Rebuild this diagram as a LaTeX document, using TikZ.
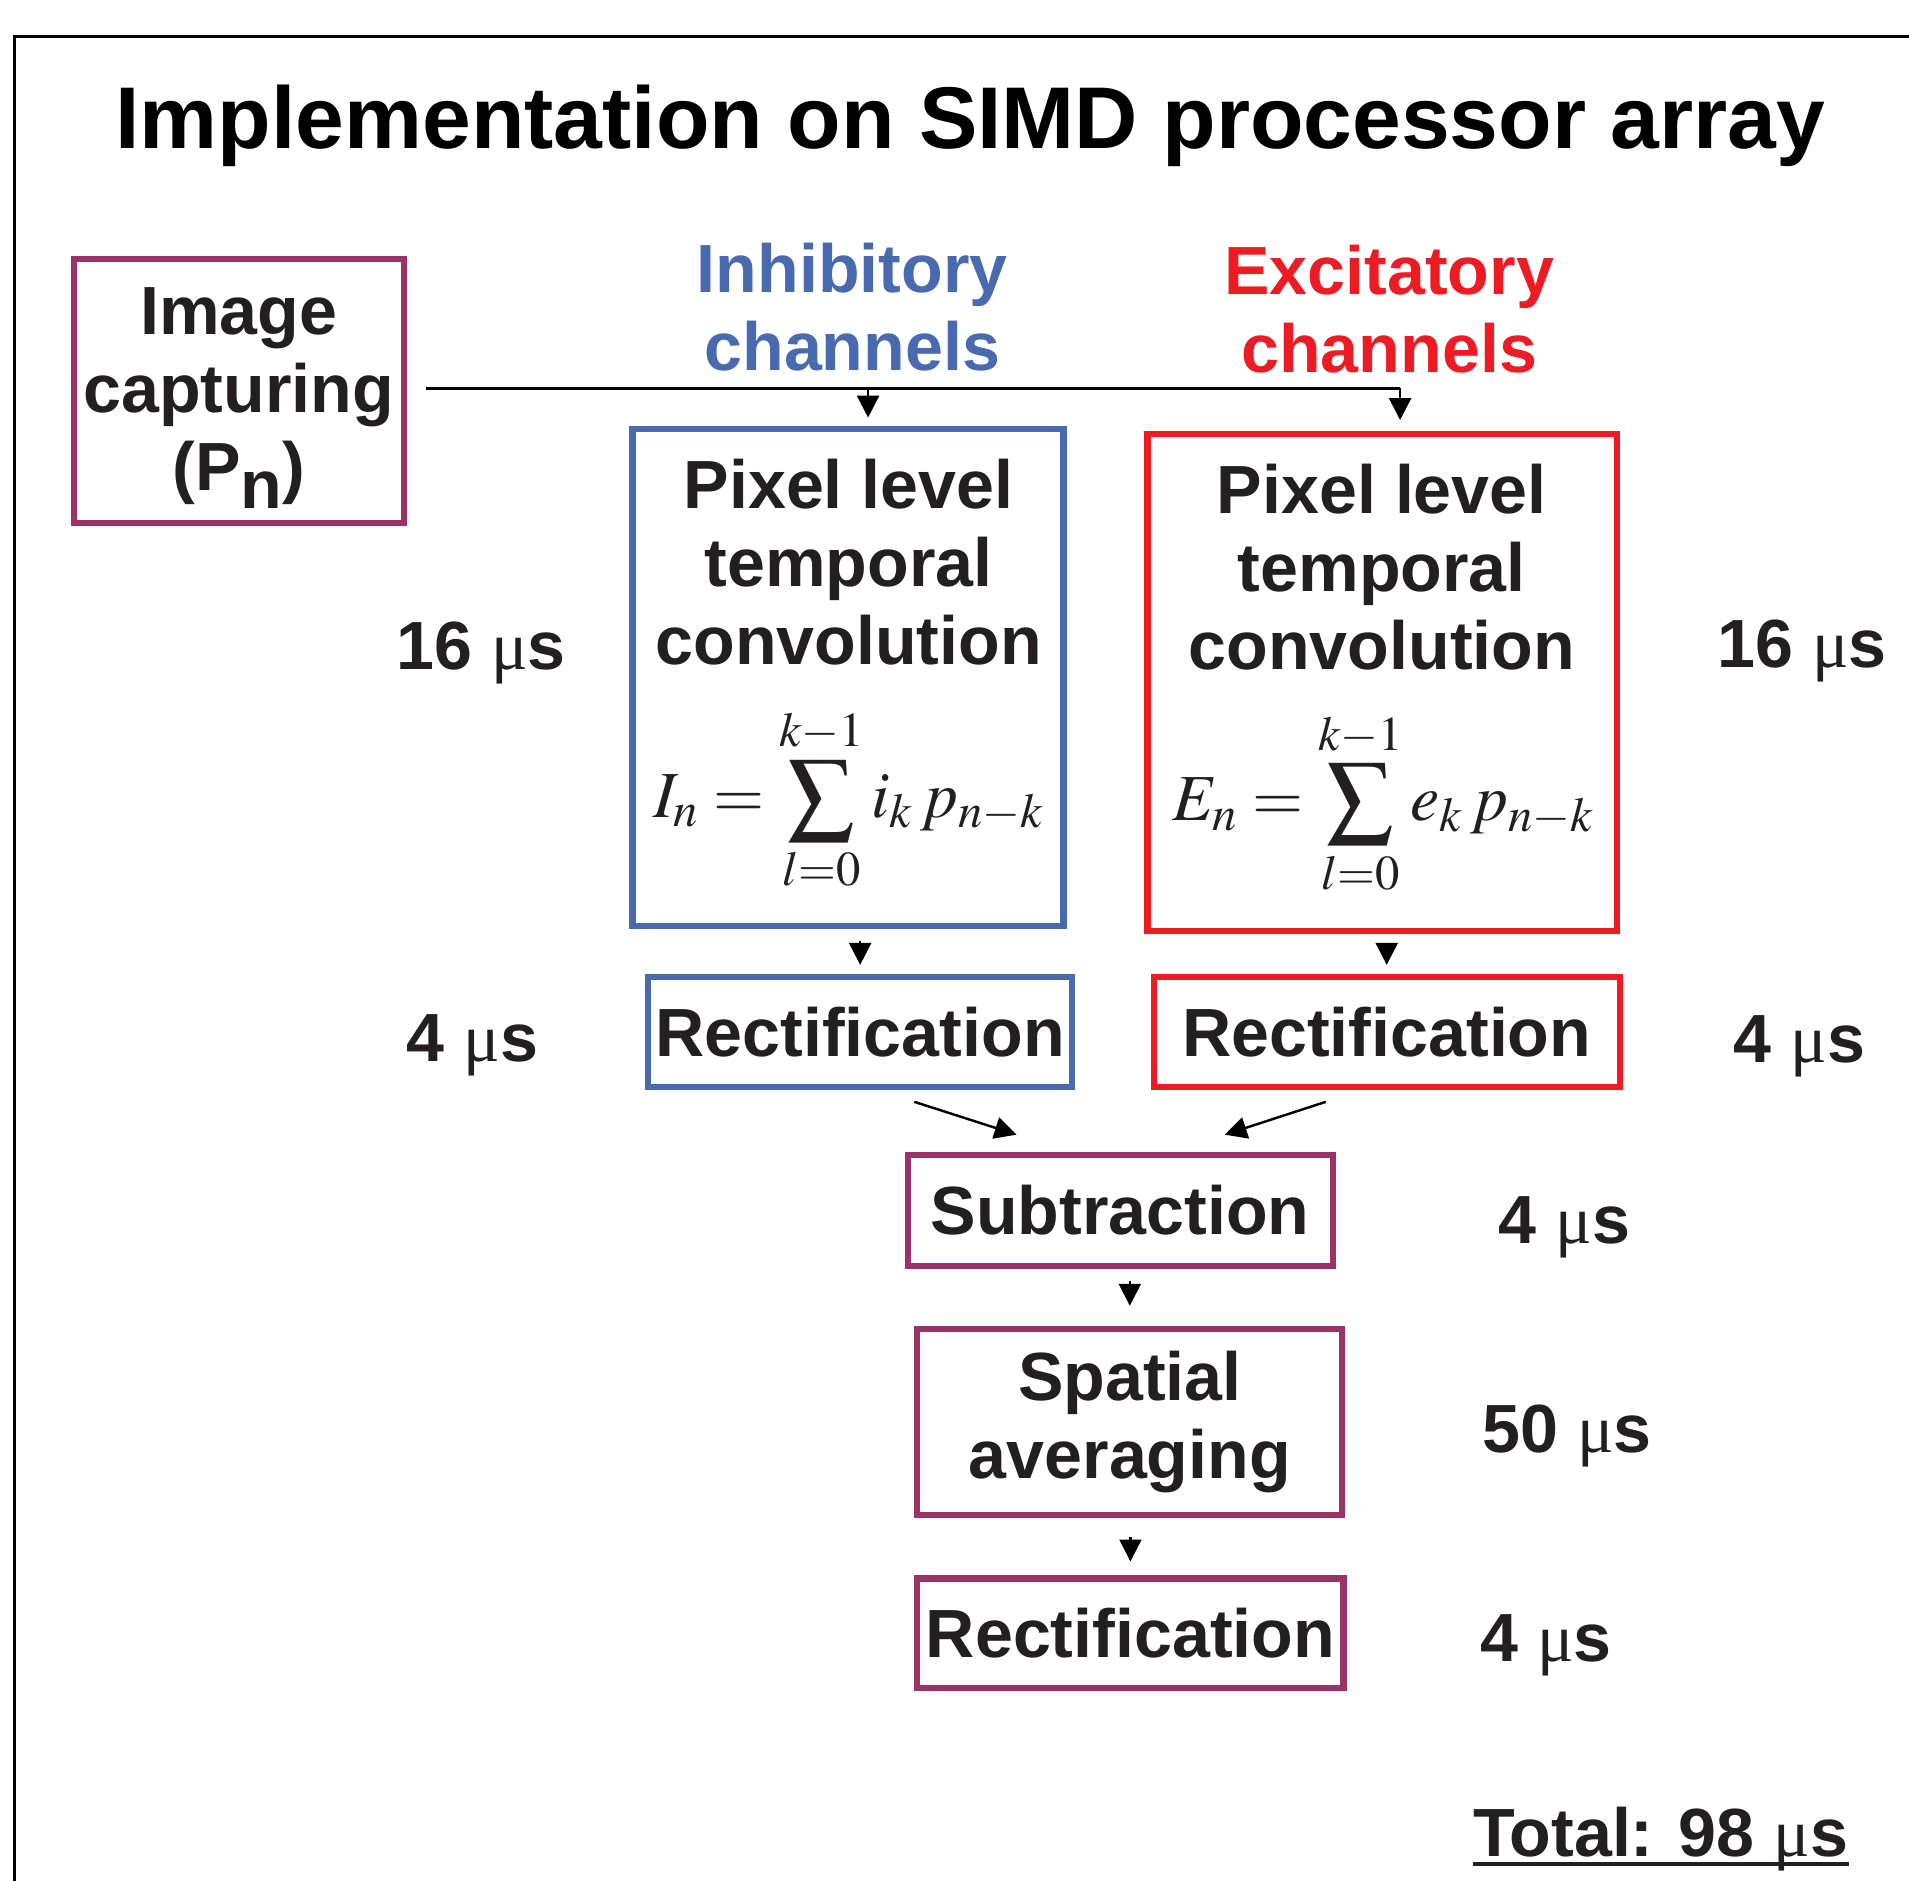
\documentclass[tikz,border=0pt]{standalone}
\usepackage{amsmath}
\usepackage{mathptmx}
\usepackage{fontspec}
\setmainfont{Liberation Sans}
\newfontfamily\mufont{Liberation Serif}
\usetikzlibrary{arrows.meta}
\definecolor{purp}{RGB}{155,51,102}
\definecolor{blu}{RGB}{74,106,176}
\definecolor{rd}{RGB}{237,28,36}
\definecolor{ink}{RGB}{35,31,32}
\newcommand{\mus}{{\mufont\mdseries μ}s}
\begin{document}
\begin{tikzpicture}[x=0.5pt,y=-0.5pt,
  box/.style={draw,line width=2.5pt,inner sep=0pt},
  txt/.style={text=ink,font=\fontsize{28}{32}\selectfont\bfseries,align=center,inner sep=0pt},
  ftxt/.style={text=ink,font=\fontsize{27}{32}\selectfont,inner sep=0pt},
  arr/.style={draw=black,line width=1pt,-{Triangle[length=9pt,width=9pt]}},
  plain/.style={draw=black,line width=1pt}]
\useasboundingbox (0,0) rectangle (1568,1545);
\fill[white] (0,0) rectangle (1568,1545);
\draw[line width=1pt] (12,1545) -- (12,30) -- (1568,30);

\node[txt,text=black,font=\fontsize{36}{40}\selectfont\bfseries,anchor=base] (title) at (797,122) {Implementation on SIMD processor array};

\node[box,draw=purp,minimum width=135.5pt,minimum height=108.5pt] (img) at (196,321) {};
\node[txt] (imgtxt) at (196,327) {Image\\capturing\\(P\raisebox{-7.5pt}{n})};

\node[txt,text=blu] (inhhead) at (700,252) {Inhibitory\\channels};
\node[txt,text=rd] (exchead) at (1141,254) {Excitatory\\channels};

\node[box,draw=blu,minimum width=177pt,minimum height=204pt] (inhconv) at (696.5,556.5) {};
\node[txt] (inhtxt) at (697,462) {Pixel level\\temporal\\convolution};
\node[ftxt] (inhform) at (697,657) {$\displaystyle I_{n} = \sum_{l=0}^{k-1} i_{k}\, p_{n-k}$};

\node[box,draw=rd,minimum width=193pt,minimum height=204pt] (excconv) at (1135.5,560.5) {};
\node[txt] (exctxt) at (1135,466) {Pixel level\\temporal\\convolution};
\node[ftxt] (excform) at (1136,660) {$\displaystyle E_{n} = \sum_{l=0}^{k-1} e_{k}\, p_{n-k}$};

\node[box,txt,draw=blu,minimum width=174pt,minimum height=45pt] (inhrect) at (706.5,847.5) {Rectification};
\node[box,txt,draw=rd,minimum width=191.5pt,minimum height=45pt] (excrect) at (1139,847.5) {Rectification};
\node[box,txt,draw=purp,minimum width=174.5pt,minimum height=45.5pt] (sub) at (920,994) {Subtraction};
\node[box,txt,draw=purp,minimum width=174.5pt,minimum height=76.5pt] (spat) at (928,1168) {Spatial\\averaging};
\node[box,txt,draw=purp,minimum width=175pt,minimum height=45pt] (rect) at (928.5,1341.5) {Rectification};

\node[txt,anchor=base] (t1) at (395,550) {16 \mus};
\node[txt,anchor=base] (t2) at (1480,548) {16 \mus};
\node[txt,anchor=base] (t3) at (388,872) {4 \mus};
\node[txt,anchor=base] (t4) at (1478,873) {4 \mus};
\node[txt,anchor=base] (t5) at (1285,1021) {4 \mus};
\node[txt,anchor=base] (t6) at (1287,1193) {50 \mus};
\node[txt,anchor=base] (t7) at (1270,1365) {4 \mus};
\node[txt,anchor=base] (total) at (1364,1525) {Total: 98 \mus};
\draw[line width=2pt,ink] ([yshift=-3pt]total.base west) -- ([yshift=-3pt]total.base east);

\coordinate (hs) at (350,319);
\coordinate (j1) at (713,319);
\coordinate (j2) at (1150,319);
\draw[plain] (hs) -- (j2);
\draw[arr,shorten >=3.5pt] (j1) -- (j1 |- inhconv.north);
\draw[arr,shorten >=4.5pt] (j2) -- (j2 |- excconv.north);
\draw[arr,shorten <=4.75pt,shorten >=3.75pt] (inhrect.north |- inhconv.south) -- (inhrect.north);
\draw[arr,shorten <=3.75pt,shorten >=3.75pt] (excrect.north |- excconv.south) -- (excrect.north);
\coordinate (d1a) at (751,905);
\coordinate (d1b) at (835,932);
\coordinate (d2a) at (1089,905);
\coordinate (d2b) at (1006,932);
\draw[arr] (d1a) -- (d1b);
\draw[arr] (d2a) -- (d2b);
\draw[arr,shorten <=5.25pt,shorten >=8.25pt] (spat.north |- sub.south) -- (spat.north);
\draw[arr,shorten <=7.75pt,shorten >=5.75pt] (rect.north |- spat.south) -- (rect.north);
\end{tikzpicture}
\end{document}
